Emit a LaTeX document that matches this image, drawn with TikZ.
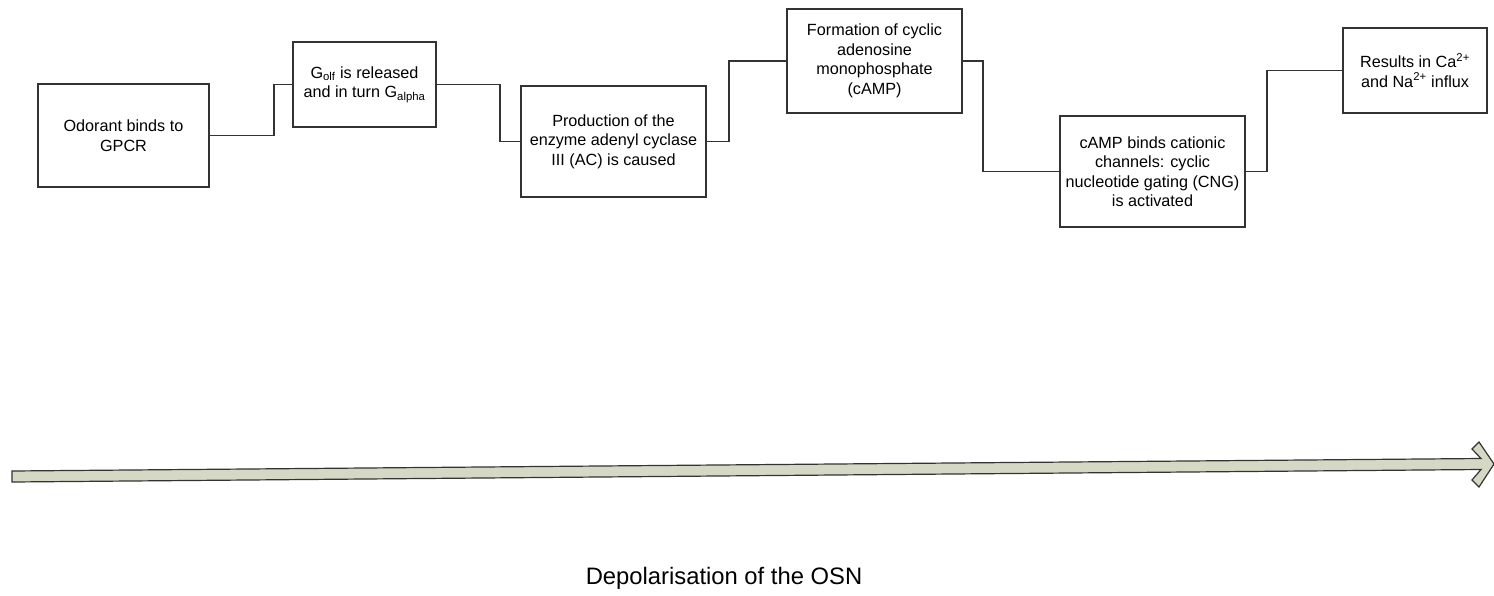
\documentclass[tikz,border=0pt]{standalone}
\usepackage{fontspec}
\setmainfont{Liberation Sans}
\definecolor{boxline}{HTML}{333333}
\definecolor{shaftfill}{HTML}{D6D8C6}
\tikzset{
    stepbox/.style={draw=boxline, line width=1.8pt, align=center, inner sep=0pt,
        font=\fontsize{16.2}{19.5}\selectfont},
    link/.style={draw=boxline, line width=1.8pt}
}
\begin{document}
\begin{tikzpicture}[x=1pt, y=-1pt]
        \useasboundingbox (0, 0) rectangle (1494, 595);
        \node[stepbox, minimum width=171, minimum height=103] (odorant) at (123.5, 135.5) {Odorant binds to\\GPCR};
        \node[stepbox, minimum width=143, minimum height=85] (golf) at (364.5, 84.5) {G\textsubscript{olf} is released\\and in turn G\textsubscript{alpha}};
        \node[stepbox, minimum width=185, minimum height=111] (adenyl) at (613.5, 141.5) {Production of the\\enzyme adenyl cyclase\\III (AC) is caused};
        \node[stepbox, minimum width=175, minimum height=104] (camp) at (874.5, 61) {Formation of cyclic\\adenosine\\monophosphate\\(cAMP)};
        \node[stepbox, minimum width=185, minimum height=111] (cng) at (1152.5, 171.5) {cAMP binds cationic\\channels: cyclic\\nucleotide gating (CNG)\\is activated};
        \node[stepbox, minimum width=144, minimum height=85] (influx) at (1415, 70.5) {Results in Ca\textsuperscript{2+}\\and Na\textsuperscript{2+} influx};
        \draw[link] (odorant.east) -- +(64, 0) |- (golf.west);
        \draw[link] (golf.east) -- +(63, 0) |- (adenyl.west);
        \draw[link] (adenyl.east) -- +(22, 0) |- (camp.west);
        \draw[link] (camp.east) -- +(20, 0) |- (cng.west);
        \draw[link] (cng.east) -- +(21, 0) |- (influx.west);
        \filldraw[fill=shaftfill, draw=boxline, line width=1.2pt, line join=miter]
            (12, 471) -- (1481, 458.5) -- (1472, 449) -- (1479, 442) -- (1494, 464)
            -- (1479, 487) -- (1472, 480) -- (1481, 469.5) -- (12, 482) -- cycle;
        \node[font=\fontsize{23.8}{28}\selectfont] (osn) at (724, 578) {Depolarisation of the OSN};
    \end{tikzpicture}
\end{document}
